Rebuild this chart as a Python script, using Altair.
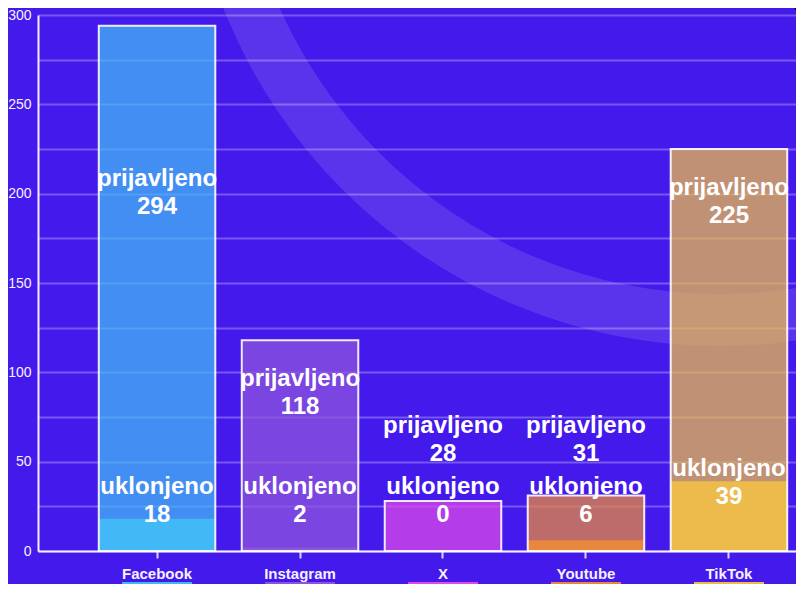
import altair as alt
import pandas as pd
import numpy as np

platforms = ["Facebook", "Instagram", "X", "Youtube", "TikTok"]
prijavljeno = [294, 118, 28, 31, 225]
uklonjeno = [18, 2, 0, 6, 39]
colors = ["#44B8F5", "#8E55DC", "#DC4AE8", "#E8883E", "#ECBB4C"]
y_ticks = list(range(0, 301, 25))

FONT = "Liberation Sans"
BG = "#4419EB"

df = pd.DataFrame({"platform": platforms, "prijavljeno": prijavljeno, "uklonjeno": uklonjeno})
# label anchors (first text line), derived from the values
df["uk_pos"] = np.maximum(df["uklonjeno"] + 7, 36)
df["pr_pos"] = np.clip(df["prijavljeno"] - 22, df["uk_pos"] + 34, 208)
df["pr_text"] = "prijavljeno\n" + df["prijavljeno"].astype(str)
df["uk_text"] = "uklonjeno\n" + df["uklonjeno"].astype(str)

W, H = 758, 536

x_enc = alt.X(
    "platform:N",
    sort=platforms,
    title=None,
    scale=alt.Scale(range=[0, 810], paddingInner=0.185, paddingOuter=0.425),
    axis=alt.Axis(
        labelAngle=0, labelFont=FONT, labelFontSize=15, labelFontWeight="bold",
        labelColor="#F4F2FF", labelPadding=8, domainColor="#F2F0FA", domainWidth=2,
        tickColor="#D8D4EE", tickWidth=2, tickSize=7, grid=False,
    ),
)
color_enc = alt.Color("platform:N", scale=alt.Scale(domain=platforms, range=colors), legend=None)

base = alt.Chart(df)

deco = alt.Chart(pd.DataFrame({"d": [0]}))
ring = deco.mark_arc(
    radius=534, radius2=482, theta=0, theta2=6.2832, fill="white", fillOpacity=0.12
).encode(x=alt.value(682), y=alt.value(-203))
corner = deco.mark_arc(
    radius=58, theta=0, theta2=6.2832, fill="white", stroke="black", strokeWidth=3
).encode(x=alt.value(802), y=alt.value(-45))

uk_bars = base.mark_bar(opacity=1).encode(
    x=x_enc,
    y=alt.Y(
        "uklonjeno:Q", title=None,
        scale=alt.Scale(domain=[0, 300], nice=False),
        axis=alt.Axis(
            values=y_ticks, labelExpr="datum.value % 50 == 0 ? datum.label : ''",
            labelFont=FONT, labelFontSize=14, labelColor="#F4F2FF", labelPadding=7,
            ticks=False, domainColor="#F2F0FA", domainWidth=2,
            grid=True, gridColor="white", gridOpacity=0.28, gridWidth=2,
        ),
    ),
    color=color_enc,
)
pr_bars = base.mark_bar(fillOpacity=0.74, stroke="white", strokeWidth=2, strokeOpacity=0.9).encode(
    x=alt.X("platform:N", sort=platforms),
    y=alt.Y("prijavljeno:Q"),
    color=color_enc,
)
pr_text = base.mark_text(
    font=FONT, fontSize=24, fontWeight="bold", color="white",
    lineBreak="\n", lineHeight=28, baseline="middle", align="center",
).encode(x=alt.X("platform:N", sort=platforms), y="pr_pos:Q", text="pr_text:N")
uk_text = base.mark_text(
    font=FONT, fontSize=24, fontWeight="bold", color="white",
    lineBreak="\n", lineHeight=28, baseline="middle", align="center",
).encode(x=alt.X("platform:N", sort=platforms), y="uk_pos:Q", text="uk_text:N")
swatches = base.mark_bar(size=70).encode(
    x=alt.X("platform:N", sort=platforms),
    y=alt.value(567), y2=alt.value(580),
    color=color_enc,
)

chart = alt.layer(ring, corner, uk_bars, pr_bars, pr_text, uk_text, swatches).properties(
    width=W, height=H,
    autosize=alt.AutoSizeParams(type="none"),
    padding={"left": 30, "top": 7, "right": 0, "bottom": 33},
    background=BG,
).configure_view(stroke=None)

chart.save("out.html", embed_options={"renderer": "svg", "actions": False})
